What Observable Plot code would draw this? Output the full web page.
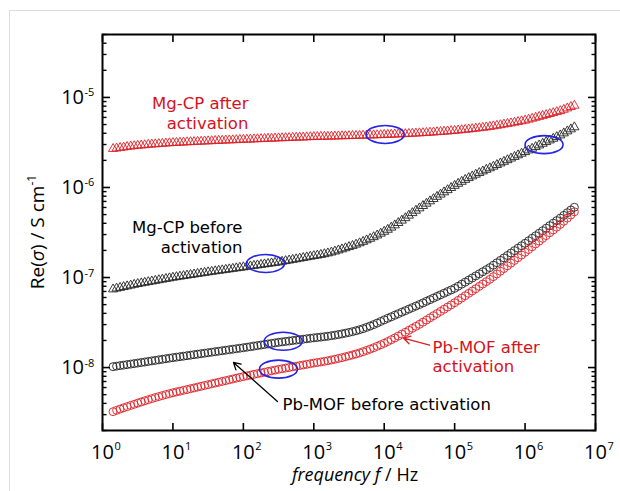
<!DOCTYPE html>
<html><head><meta charset="utf-8">
<script src="https://cdn.jsdelivr.net/npm/d3@7"></script>
<script src="https://cdn.jsdelivr.net/npm/@observablehq/plot@0.6"></script>
<style>
body{margin:0;background:#fff;}
#wrap{position:relative;width:620px;height:491px;overflow:hidden;}
#wrap svg{position:absolute;left:0;top:0;}
#border{position:absolute;left:9px;top:10px;width:700px;height:600px;border-top:1px solid #dcdcdc;border-left:1px solid #dcdcdc;pointer-events:none;z-index:2;}
</style></head><body><div id="wrap"><div id="border"></div></div>
<script>
// measurement frequencies (Hz)
const freq = [1.413,1.585,1.778,1.995,2.239,2.512,2.818,3.162,3.548,3.981,4.467,5.012,5.623,6.310,7.079,7.943,8.913,
10.00,11.22,12.59,14.13,15.85,17.78,19.95,22.39,25.12,28.18,31.62,35.48,39.81,44.67,50.12,56.23,63.10,70.79,79.43,89.13,
100.0,112.2,125.9,141.3,158.5,177.8,199.5,223.9,251.2,281.8,316.2,354.8,398.1,446.7,501.2,562.3,631.0,707.9,794.3,891.3,
1000,1122,1259,1413,1585,1778,1995,2239,2512,2818,3162,3548,3981,4467,5012,5623,6310,7079,7943,8913,
10000,11220,12590,14130,15850,17780,19950,22390,25120,28180,31620,35480,39810,44670,50120,56230,63100,70790,79430,89130,
100000,112200,125900,141300,158500,177800,199500,223900,251200,281800,316200,354800,398100,446700,501200,562300,631000,707900,794300,891300,
1000000,1122000,1259000,1413000,1585000,1778000,1995000,2239000,2512000,2818000,3162000,3548000,3981000,4467000,5012000];

// Mg-CP after activation, Re(sigma) in 1e-6 S/cm
const mgAfter = [2.69,2.72,2.76,2.79,2.83,2.86,2.89,2.92,
2.94,2.96,2.99,3.01,3.03,3.05,3.07,3.09,3.11,3.13,
3.14,3.16,3.17,3.19,3.20,3.21,3.23,3.24,3.26,3.27,
3.28,3.30,3.31,3.32,3.34,3.35,3.36,3.37,3.39,3.40,
3.41,3.42,3.44,3.45,3.46,3.47,3.49,3.50,3.51,3.53,
3.54,3.55,3.56,3.58,3.59,3.60,3.61,3.62,3.64,3.65,
3.66,3.67,3.68,3.68,3.69,3.70,3.71,3.72,3.73,3.74,
3.75,3.76,3.77,3.78,3.79,3.80,3.81,3.82,3.83,3.85,
3.86,3.87,3.89,3.90,3.92,3.93,3.95,3.97,3.99,4.01,
4.03,4.05,4.08,4.10,4.13,4.15,4.18,4.21,4.24,4.27,
4.31,4.35,4.39,4.43,4.47,4.52,4.57,4.62,4.67,4.73,
4.80,4.87,4.94,5.02,5.10,5.18,5.27,5.36,5.46,5.56,
5.69,5.83,5.97,6.11,6.26,6.41,6.57,6.73,6.90,7.08,
7.33,7.59,7.86,8.13];

// Mg-CP before activation, in 1e-7 S/cm
const mgBefore = [0.741,0.757,0.771,0.787,0.802,0.818,0.834,0.851,
0.865,0.879,0.893,0.908,0.923,0.938,0.953,0.968,0.984,1.000,
1.014,1.028,1.042,1.057,1.072,1.086,1.102,1.117,1.132,1.148,
1.163,1.178,1.193,1.208,1.223,1.239,1.254,1.271,1.287,1.303,
1.320,1.337,1.354,1.371,1.388,1.406,1.424,1.442,1.460,1.479,
1.503,1.528,1.552,1.578,1.603,1.629,1.656,1.683,1.710,1.738,
1.762,1.791,1.824,1.862,1.905,1.954,2.009,2.065,2.123,2.188,
2.254,2.328,2.410,2.500,2.600,2.704,2.818,2.944,3.083,3.236,
3.404,3.597,3.811,4.046,4.305,4.581,4.887,5.212,5.546,5.888,
6.252,6.637,7.047,7.464,7.907,8.375,8.872,9.376,9.908,10.47,
11.04,11.61,12.19,12.76,13.34,13.93,14.52,15.14,15.78,16.41,
17.10,17.82,18.58,19.36,20.18,21.04,21.93,22.86,23.82,24.83,
25.91,27.04,28.21,29.44,30.72,32.06,33.46,34.91,36.43,38.02,
40.05,42.17,44.41,46.77];

// Pb-MOF before activation, in 1e-8 S/cm
const pbBefore = [1.023,1.037,1.051,1.064,1.079,1.093,1.107,1.122,
1.138,1.153,1.169,1.186,1.202,1.219,1.236,1.253,1.271,1.288,
1.305,1.321,1.338,1.355,1.372,1.390,1.408,1.426,1.444,1.462,
1.481,1.500,1.519,1.538,1.558,1.578,1.598,1.618,1.639,1.660,
1.683,1.706,1.730,1.754,1.778,1.803,1.828,1.854,1.879,1.905,
1.928,1.950,1.972,1.995,2.018,2.042,2.065,2.089,2.113,2.138,
2.158,2.178,2.203,2.228,2.259,2.291,2.328,2.366,2.410,2.455,
2.506,2.564,2.630,2.704,2.793,2.891,2.999,3.119,3.251,3.388,
3.524,3.664,3.811,3.963,4.121,4.285,4.457,4.634,4.819,5.012,
5.224,5.445,5.675,5.916,6.166,6.427,6.699,6.982,7.278,7.586,
8.000,8.433,8.892,9.376,9.886,10.42,10.99,11.59,12.22,12.88,
13.71,14.59,15.52,16.52,17.58,18.71,19.91,21.18,22.54,23.99,
25.59,27.29,29.11,31.05,33.11,35.32,37.67,40.18,42.85,45.71,
48.98,52.48,56.23,60.26];

// Pb-MOF after activation, in 1e-9 S/cm
const pbAfter = [3.236,3.350,3.459,3.573,3.681,3.793,3.908,4.027,
4.150,4.276,4.395,4.519,4.645,4.764,4.887,5.012,5.129,5.248,
5.358,5.470,5.585,5.702,5.821,5.943,6.067,6.194,6.324,6.457,
6.592,6.730,6.871,7.015,7.161,7.311,7.464,7.621,7.780,7.943,
8.091,8.241,8.395,8.551,8.710,8.872,9.036,9.204,9.376,9.550,
9.705,9.863,10.02,10.19,10.35,10.52,10.69,10.86,11.04,11.22,
11.38,11.53,11.72,11.91,12.13,12.36,12.62,12.88,13.18,13.49,
13.80,14.16,14.55,15.00,15.49,16.03,16.60,17.22,17.91,18.62,
19.45,20.37,21.33,22.39,23.50,24.66,25.94,27.29,28.71,30.20,
31.92,33.73,35.65,37.67,39.81,42.07,44.46,46.99,49.66,52.48,
55.72,59.16,62.81,66.68,70.79,75.16,79.80,84.72,89.95,95.50,
102.3,109.6,117.5,125.9,134.9,144.5,154.9,166.0,177.8,190.5,
204.6,219.8,236.0,253.5,272.3,292.4,314.1,337.3,362.2,389.0,
421.7,457.1,495.5,537.0];

// axis ticks and labels
const xMajor = [1,1e1,1e2,1e3,1e4,1e5,1e6,1e7];
const xExp = ["0","1","2","3","4","5","6","7"];
const yMajor = [1e-8,1e-7,1e-6,1e-5];
const yExp = ["-8","-7","-6","-5"];
const xDomain = [1, 1e7];
const yDomain = [2e-9, 5e-5];

// annotations (text, anchor frequency, anchor value of the last line's baseline)
const noteMgAfter = [{t:"Mg-CP after\nactivation", f:118, v:4.50e-6}];
const noteMgBefore = [{t:"Mg-CP before\nactivation", f:97.2, v:1.88e-7}];
const notePbAfter = [{t:"Pb-MOF after\nactivation", f:4.85e4, v:8.83e-9}];
const notePbBefore = [{t:"Pb-MOF before activation", f:359.5, v:3.41e-9}];
const redArrow = [{f1:4.40e4, v1:1.77e-8, f2:1.88e4, v2:2.12e-8}];
const blackArrow = [{f1:305, v1:4.19e-9, f2:72.4, v2:1.14e-8}];
const highlights = [
  {f:1.03e4, v:3.88e-6},
  {f:1.86e6, v:2.99e-6},
  {f:206, v:1.43e-7},
  {f:368, v:1.96e-8},
  {f:315, v:9.6e-9}
];

const series = (vals, unit) => freq.map((f, i) => ({f, v: vals[i] * unit}));
const A = series(mgAfter, 1e-6), B = series(mgBefore, 1e-7), C = series(pbBefore, 1e-8), D = series(pbAfter, 1e-9);

const yAll = d3.scaleLog().domain(yDomain).ticks();
const yMinor = yAll.filter(t => !yMajor.some(m => Math.abs(m - t) / m < 1e-6));

const RED = "#dd1f26", RED_T = "#d5121c", BLUE = "#2424e8";
const ellipse = {draw(ctx) {
  const rx = 19, ry = 9, k = 0.5523;
  ctx.moveTo(rx, 0);
  ctx.bezierCurveTo(rx, ry * k, rx * k, ry, 0, ry);
  ctx.bezierCurveTo(-rx * k, ry, -rx, ry * k, -rx, 0);
  ctx.bezierCurveTo(-rx, -ry * k, -rx * k, -ry, 0, -ry);
  ctx.bezierCurveTo(rx * k, -ry, rx, -ry * k, rx, 0);
  ctx.closePath();
}};
const noteStyle = {x: "f", y: "v", text: "t", lineAnchor: "bottom", fontSize: 16.5, lineHeight: 1.18, fontFamily: "'DejaVu Sans', sans-serif"};

const chart = Plot.plot({
  width: 620, height: 491,
  marginLeft: 102, marginRight: 25, marginTop: 34, marginBottom: 61,
  x: {type: "log", domain: xDomain},
  y: {type: "log", domain: yDomain},
  style: {fontFamily: "'Open Sans', sans-serif", fontSize: "19px", color: "#000", background: "transparent"},
  marks: [
    Plot.dot(A, {x: "f", y: "v", symbol: "triangle", r: 3.4, fill: "none", stroke: RED, strokeWidth: 0.9}),
    Plot.dot(B, {x: "f", y: "v", symbol: "triangle", r: 3.4, fill: "none", stroke: "#222", strokeWidth: 0.9}),
    Plot.dot(C, {x: "f", y: "v", r: 4, fill: "none", stroke: "#222", strokeWidth: 0.9}),
    Plot.dot(D, {x: "f", y: "v", r: 4, fill: "none", stroke: RED, strokeWidth: 0.9}),
    Plot.dot(highlights, {x: "f", y: "v", symbol: ellipse, fill: "none", stroke: BLUE, strokeWidth: 1.6}),
    Plot.arrow(redArrow, {x1: "f1", y1: "v1", x2: "f2", y2: "v2", stroke: RED, strokeWidth: 1.3, headLength: 9}),
    Plot.arrow(blackArrow, {x1: "f1", y1: "v1", x2: "f2", y2: "v2", stroke: "#000", strokeWidth: 1.3, headLength: 9}),
    Plot.text(noteMgAfter, {...noteStyle, textAnchor: "end", fill: RED_T}),
    Plot.text(noteMgBefore, {...noteStyle, textAnchor: "end", fill: "#000"}),
    Plot.text(notePbAfter, {...noteStyle, textAnchor: "start", fill: RED_T}),
    Plot.text(notePbBefore, {...noteStyle, textAnchor: "start", fill: "#000"}),
    Plot.axisX({anchor: "bottom", ticks: xMajor, tickSize: -7, tickFormat: () => "", label: null, strokeWidth: 1.6}),
    Plot.axisX({anchor: "top", ticks: xMajor, tickSize: -7, tickFormat: () => "", label: null, strokeWidth: 1.6}),
    Plot.axisY({anchor: "left", ticks: yMajor, tickSize: -8, tickFormat: () => "", label: null, strokeWidth: 1.6}),
    Plot.axisY({anchor: "left", ticks: yMinor, tickSize: -4.5, tickFormat: () => "", label: null, strokeWidth: 1.4}),
    Plot.axisY({anchor: "right", ticks: yMajor, tickSize: -8, tickFormat: () => "", label: null, strokeWidth: 1.6}),
    Plot.axisY({anchor: "right", ticks: yMinor, tickSize: -4.5, tickFormat: () => "", label: null, strokeWidth: 1.4}),
    Plot.frame({stroke: "#000", strokeWidth: 2}),
    Plot.text(xMajor, {x: d => d, frameAnchor: "bottom", text: () => "10", textAnchor: "middle", lineAnchor: "bottom", dy: 28, fontSize: 20}),
    Plot.text(xMajor, {x: d => d, frameAnchor: "bottom", text: (d, i) => xExp[i], textAnchor: "start", lineAnchor: "bottom", dx: 12, dy: 19, fontSize: 11}),
    Plot.text(yMajor, {y: d => d, frameAnchor: "left", text: () => "10", textAnchor: "end", lineAnchor: "middle", dx: -18.5, fontSize: 20}),
    Plot.text(yMajor, {y: d => d, frameAnchor: "left", text: (d, i) => yExp[i], textAnchor: "start", lineAnchor: "bottom", dx: -18, dy: -1, fontSize: 11})
  ]
});

const s = d3.select(chart);
const yl = s.append("text").attr("transform", "translate(44,232) rotate(-90)")
  .attr("text-anchor", "middle").attr("font-size", 19).attr("fill", "#000");
yl.append("tspan").text("Re(");
yl.append("tspan").attr("font-style", "italic").text("σ");
yl.append("tspan").text(") / S cm");
yl.append("tspan").attr("font-size", 12).attr("dy", -8).text("-1");
const xl = s.append("text").attr("x", 355).attr("y", 481)
  .attr("text-anchor", "middle").attr("font-size", 18).attr("fill", "#000");
xl.append("tspan").attr("font-style", "italic").text("frequency f");
xl.append("tspan").text(" / Hz");

document.getElementById("wrap").prepend(chart);
</script>
</body></html>
